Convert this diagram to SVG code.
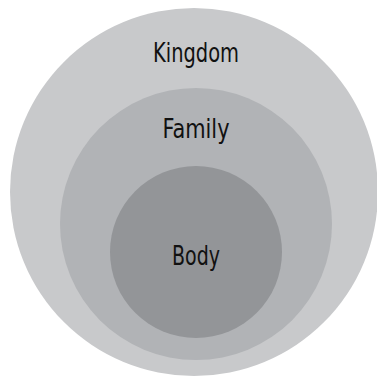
<svg xmlns="http://www.w3.org/2000/svg" width="377" height="379" viewBox="0 0 377 379">
<style>
text{font-family:"Liberation Sans Narrow","DejaVu Sans Condensed","Liberation Sans",sans-serif;font-size:26px;fill:#111;text-anchor:middle}
</style>
<rect width="377" height="379" fill="#fff"/>
<g id="kingdom">
<circle cx="194" cy="192" r="184" fill="#c8c9cb"/>
<text x="196" y="62" textLength="86" lengthAdjust="spacingAndGlyphs">Kingdom</text>
</g>
<g id="family">
<circle cx="196" cy="224" r="136" fill="#b1b3b6"/>
<text x="196" y="138" font-size="25" textLength="67" lengthAdjust="spacingAndGlyphs">Family</text>
</g>
<g id="body">
<circle cx="196" cy="252" r="86" fill="#939598"/>
<text x="196" y="265" textLength="48" lengthAdjust="spacingAndGlyphs">Body</text>
</g>
</svg>
